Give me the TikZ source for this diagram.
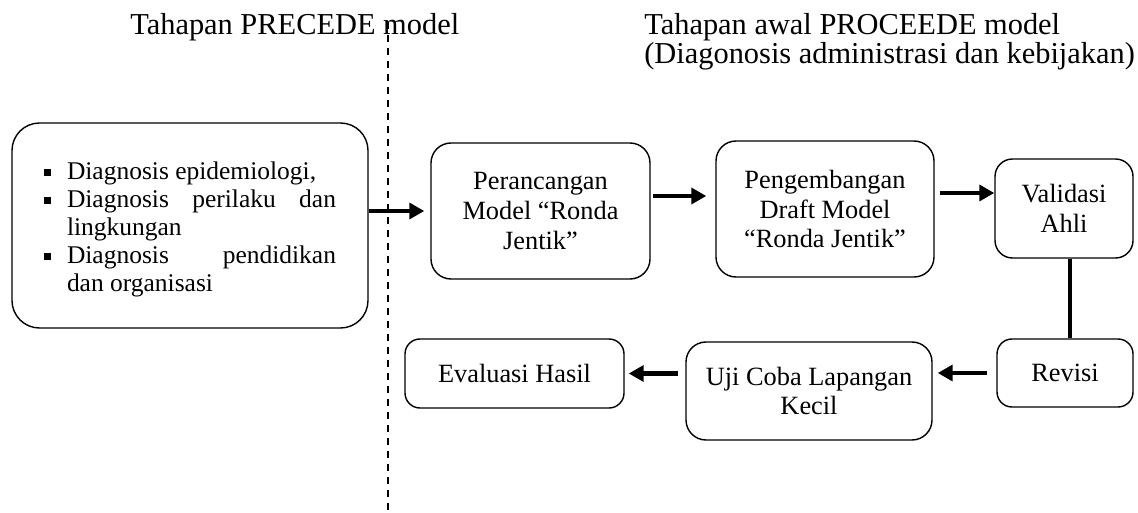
\documentclass[tikz,border=0pt]{standalone}
\usepackage{fontspec}
\setmainfont{Liberation Serif}
\usepackage{tikz}
\usetikzlibrary{arrows.meta}
\newcommand{\sqbullet}{\rule[0.3ex]{4pt}{4pt}}
\newcommand{\leftlabel}[1]{#1\hfil}

\begin{document}
\begin{tikzpicture}[
  stage/.style={draw, thick, rounded corners=0.4cm, align=center, inner sep=0pt,
    font=\fontsize{15}{17}\selectfont},
  flow/.style={line width=2.8pt, -{Triangle[length=8.5pt,width=9pt]}},
  head/.style={anchor=base west, inner sep=0pt, font=\fontsize{17.3}{20}\selectfont},
  divider/.style={line width=0.9pt, dash pattern=on 0.14cm off 0.12cm}]
  \useasboundingbox (0,0) rectangle (22.76,-10.26);

  \node[head] (precede) at (2.60,-0.70) {Tahapan PRECEDE model};
  \node[head] (proceede) at (12.88,-0.70) {Tahapan awal PROCEEDE model};
  \node[head] (proceedesub) at (12.88,-1.28) {(Diagonosis administrasi dan kebijakan)};

  \coordinate (divtop) at (7.76,-0.44);
  \coordinate (divbot) at (7.76,-10.26);
  \draw[divider] (divtop) -- (divbot);

  \node[stage, minimum width=7.12cm, minimum height=4.10cm, rounded corners=0.55cm,
    font=\fontsize{14.5}{16}\selectfont] (diag) at (3.80,-4.51) {%
    \begin{minipage}{5.84cm}
      \vspace*{0.16cm}
      \begin{list}{\sqbullet}{\setlength\leftmargin{0.46cm}\setlength\labelwidth{0.46cm}
          \setlength\labelsep{0pt}\setlength\itemsep{0pt}\setlength\parsep{0pt}
          \setlength\topsep{0pt}\let\makelabel\leftlabel}
        \item Diagnosis epidemiologi,
        \item Diagnosis perilaku dan\linebreak lingkungan
        \item Diagnosis pendidikan\linebreak dan organisasi
      \end{list}
    \end{minipage}};

  \node[stage, minimum width=4.38cm, minimum height=2.72cm] (rancang) at (10.81,-4.22)
    {Perancangan\\Model ``Ronda\\Jentik''};
  \node[stage, minimum width=4.36cm, minimum height=2.72cm] (kembang) at (16.50,-4.18)
    {Pengembangan\\Draft Model\\``Ronda Jentik''};
  \node[stage, minimum width=2.76cm, minimum height=1.98cm, rounded corners=0.35cm] (validasi)
    at (21.28,-4.17) {Validasi\\Ahli};
  \node[stage, minimum width=2.72cm, minimum height=1.36cm, rounded corners=0.3cm] (revisi)
    at (21.30,-7.46) {Revisi};
  \node[stage, minimum width=4.92cm, minimum height=1.96cm] (ujicoba) at (16.18,-7.82)
    {Uji Coba Lapangan\\Kecil};
  \node[stage, minimum width=4.38cm, minimum height=1.38cm, rounded corners=0.3cm] (evaluasi)
    at (10.29,-7.47) {Evaluasi Hasil};

  \draw[flow, shorten >=0.12cm] (diag.east |- rancang) -- (rancang.west);
  \draw[flow, shorten <=0.04cm, shorten >=0.18cm] ([yshift=0.30cm]rancang.east)
    -- ([yshift=0.30cm]rancang.east -| kembang.west);
  \draw[flow, shorten <=0.10cm] ([yshift=0.32cm]kembang.east)
    -- ([yshift=0.32cm]kembang.east -| validasi.west);
  \draw[line width=2.8pt] ([xshift=0.12cm]validasi.south) -- ([xshift=0.12cm]validasi.south |- revisi.north);
  \draw[flow, shorten <=0.18cm, shorten >=0.10cm] (revisi.west) -- (revisi.west -| ujicoba.east);
  \draw[flow, shorten <=0.14cm, shorten >=0.08cm] (ujicoba.west |- evaluasi) -- (evaluasi.east);
\end{tikzpicture}
\end{document}
